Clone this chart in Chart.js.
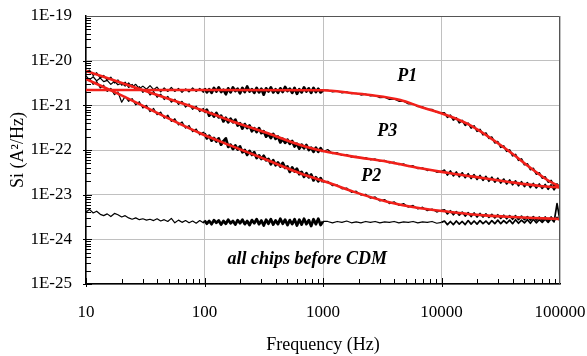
<!DOCTYPE html>
<html>
<head>
<meta charset="utf-8">
<title>Si vs frequency</title>
<script src="https://cdn.jsdelivr.net/npm/chart.js@4.4.1/dist/chart.umd.min.js"></script>
<style>
  html, body { margin: 0; padding: 0; background: #fff; }
</style>
</head>
<body>
<canvas id="noiseChart" width="587" height="356"></canvas>
<script>
// Measured frequencies (Hz), shared by the four measured spectra
const freqHz = [
    10, 10.7, 11.5, 12.3, 13.2, 14.1, 15.1, 16.2, 17.4, 18.6, 20, 21.4, 22.9, 24.5, 26.3, 28.2, 30.2,
    32.4, 34.7, 37.2, 39.8, 42.7, 45.7, 49, 52.5, 56.2, 60.3, 64.6, 69.2, 74.1, 79.4, 85.1, 91.2, 97.7,
    100, 104.7, 109.6, 114.8, 120.2, 125.9, 131.8, 138, 144.5, 151.4, 158.5, 166, 173.8, 182, 190.5,
    199.5, 208.9, 218.8, 229.1, 239.9, 251.2, 263, 275.4, 288.4, 302, 316.2, 331.1, 346.7, 363.1,
    380.2, 398.1, 416.9, 436.5, 457.1, 478.6, 501.2, 524.8, 549.5, 575.4, 602.6, 631, 660.7, 691.8,
    724.4, 758.6, 794.3, 831.8, 871, 912, 955, 1000,
    1096, 1202, 1318, 1445, 1585, 1738, 1905, 2089, 2291, 2512, 2754, 3020, 3311, 3631, 3981, 4365,
    4786, 5248, 5754, 6310, 6918, 7586, 8318, 9120, 10000,
    10593, 11220, 11885, 12589, 13335, 14125, 14962, 15849, 16788, 17783, 18836, 19953, 21135, 22387,
    23714, 25119, 26607, 28184, 29854, 31623, 33497, 35481, 37584, 39811, 42170, 44668, 47315, 50119,
    53088, 56234, 59566, 63096, 66834, 70795, 74989, 79433, 84140, 89125, 94406, 100000
];

const p1LogSi = [
    -20.34, -20.43, -20.36, -20.45, -20.39, -20.47, -20.44, -20.53, -20.46, -20.54,
    -20.50, -20.57, -20.50, -20.59, -20.53, -20.63, -20.57, -20.64, -20.56, -20.65,
    -20.59, -20.70, -20.61, -20.69, -20.60, -20.69, -20.62, -20.71, -20.63, -20.70,
    -20.61, -20.69, -20.62, -20.71,
    -20.62, -20.71, -20.64, -20.72, -20.61, -20.69, -20.60, -20.70, -20.65, -20.75,
    -20.62, -20.71, -20.60, -20.68, -20.63, -20.73, -20.61, -20.70, -20.58, -20.69,
    -20.64, -20.72, -20.61, -20.71, -20.63, -20.76, -20.62, -20.69, -20.60, -20.71,
    -20.64, -20.72, -20.62, -20.70, -20.59, -20.68, -20.63, -20.72, -20.61, -20.74,
    -20.64, -20.71, -20.60, -20.69, -20.62, -20.72, -20.61, -20.70, -20.63, -20.71,
    -20.66,
    -20.66, -20.70, -20.68, -20.72, -20.70, -20.74, -20.73, -20.77, -20.75, -20.79,
    -20.78, -20.83, -20.82, -20.87, -20.86, -20.91, -20.91, -20.97, -20.97, -21.03,
    -21.03, -21.09, -21.09, -21.16, -21.17,
    -21.17, -21.27, -21.22, -21.33, -21.28, -21.39, -21.34, -21.45, -21.40, -21.51,
    -21.46, -21.58, -21.54, -21.66, -21.62, -21.74, -21.71, -21.84, -21.81, -21.94,
    -21.91, -22.03, -22.00, -22.13, -22.10, -22.23, -22.20, -22.33, -22.31, -22.44,
    -22.41, -22.54, -22.51, -22.63, -22.60, -22.72, -22.68, -22.80, -22.76, -22.84
];
const p3LogSi = [
    -20.27, -20.21, -20.33, -20.27, -20.39, -20.33, -20.44, -20.37, -20.50, -20.43,
    -20.55, -20.48, -20.60, -20.53, -20.66, -20.58, -20.71, -20.64, -20.77, -20.69,
    -20.82, -20.75, -20.87, -20.80, -20.93, -20.86, -20.98, -20.91, -21.04, -20.97,
    -21.09, -21.02, -21.14, -21.07,
    -21.16, -21.10, -21.23, -21.17, -21.25, -21.17, -21.27, -21.23, -21.36, -21.28,
    -21.38, -21.30, -21.38, -21.32, -21.45, -21.40, -21.52, -21.42, -21.51, -21.45,
    -21.58, -21.51, -21.60, -21.51, -21.62, -21.58, -21.70, -21.64, -21.73, -21.64,
    -21.75, -21.70, -21.83, -21.75, -21.84, -21.77, -21.86, -21.80, -21.92, -21.86,
    -21.97, -21.88, -21.96, -21.89, -22.00, -21.95, -22.04, -21.95, -22.04, -21.96,
    -22.04,
    -21.99, -22.08, -22.06, -22.12, -22.10, -22.16, -22.14, -22.19, -22.17, -22.22,
    -22.20, -22.25, -22.23, -22.29, -22.27, -22.33, -22.31, -22.37, -22.35, -22.42,
    -22.40, -22.46, -22.44, -22.50, -22.48,
    -22.45, -22.56, -22.47, -22.58, -22.49, -22.60, -22.51, -22.62, -22.53, -22.64,
    -22.55, -22.66, -22.57, -22.68, -22.59, -22.70, -22.61, -22.72, -22.63, -22.74,
    -22.65, -22.76, -22.67, -22.78, -22.69, -22.80, -22.71, -22.82, -22.73, -22.84,
    -22.75, -22.85, -22.76, -22.86, -22.77, -22.88, -22.78, -22.89, -22.79, -22.86
];
const p2LogSi = [
    -20.44, -20.40, -20.53, -20.47, -20.61, -20.55, -20.69, -20.62, -20.76, -20.70,
    -20.93, -20.80, -20.91, -20.85, -20.99, -20.92, -21.06, -21.00, -21.14, -21.07,
    -21.21, -21.15, -21.29, -21.22, -21.36, -21.30, -21.44, -21.37, -21.51, -21.45,
    -21.59, -21.53, -21.66, -21.60,
    -21.63, -21.74, -21.68, -21.79, -21.73, -21.81, -21.74, -21.88, -21.80, -21.74,
    -21.93, -21.88, -21.98, -21.90, -21.99, -21.92, -22.05, -22.00, -22.11, -22.02,
    -22.11, -22.05, -22.18, -22.12, -22.20, -22.13, -22.23, -22.20, -22.32, -22.23,
    -22.34, -22.28, -22.37, -22.29, -22.40, -22.37, -22.49, -22.39, -22.48, -22.42,
    -22.54, -22.49, -22.60, -22.52, -22.61, -22.55, -22.68, -22.61, -22.70, -22.63,
    -22.72,
    -22.70, -22.80, -22.78, -22.87, -22.85, -22.95, -22.92, -23.01, -22.99, -23.08,
    -23.05, -23.14, -23.11, -23.20, -23.16, -23.24, -23.20, -23.28, -23.24, -23.32,
    -23.28, -23.36, -23.32, -23.39, -23.35,
    -23.34, -23.43, -23.36, -23.45, -23.38, -23.46, -23.39, -23.48, -23.40, -23.49,
    -23.41, -23.50, -23.42, -23.50, -23.43, -23.51, -23.44, -23.52, -23.45, -23.53,
    -23.46, -23.54, -23.47, -23.55, -23.47, -23.56, -23.48, -23.56, -23.49, -23.57,
    -23.49, -23.57, -23.50, -23.58, -23.50, -23.58, -23.50, -23.58, -23.51, -23.58
];
const beforeCdmLogSi = [
    -23.39, -23.33, -23.41, -23.37, -23.44, -23.47, -23.43, -23.49, -23.42, -23.45,
    -23.50, -23.47, -23.52, -23.55, -23.52, -23.56, -23.54, -23.57, -23.55, -23.58,
    -23.54, -23.59, -23.56, -23.60, -23.53, -23.63, -23.57, -23.62, -23.58, -23.63,
    -23.59, -23.64, -23.58, -23.63,
    -23.58, -23.65, -23.59, -23.66, -23.57, -23.63, -23.58, -23.67, -23.59, -23.65,
    -23.56, -23.64, -23.59, -23.67, -23.57, -23.64, -23.56, -23.66, -23.59, -23.68,
    -23.57, -23.64, -23.55, -23.66, -23.58, -23.69, -23.56, -23.65, -23.55, -23.67,
    -23.58, -23.66, -23.54, -23.65, -23.56, -23.68, -23.57, -23.66, -23.55, -23.69,
    -23.56, -23.67, -23.54, -23.66, -23.57, -23.70, -23.55, -23.66, -23.54, -23.68,
    -23.60,
    -23.60, -23.63, -23.60, -23.62, -23.59, -23.63, -23.61, -23.63, -23.60, -23.62,
    -23.60, -23.63, -23.61, -23.62, -23.60, -23.63, -23.61, -23.62, -23.60, -23.63,
    -23.61, -23.62, -23.60, -23.64, -23.62,
    -23.59, -23.67, -23.60, -23.67, -23.59, -23.66, -23.60, -23.67, -23.58, -23.66,
    -23.59, -23.66, -23.58, -23.65, -23.59, -23.66, -23.58, -23.65, -23.57, -23.65,
    -23.58, -23.64, -23.57, -23.65, -23.56, -23.64, -23.57, -23.63, -23.56, -23.64,
    -23.55, -23.63, -23.56, -23.62, -23.55, -23.62, -23.54, -23.61, -23.20, -23.58
];

// Fitted curves (red), Si in A^2/Hz
const p1FitHz = [10, 100, 1000, 1800, 2500, 4500, 6600, 11900, 18600, 36000, 59600, 78300, 100000];
const p1FitSi = [2.2e-21, 2.2e-21, 2.18e-21, 1.86e-21, 1.70e-21, 1.32e-21, 9.3e-22, 5.6e-22, 3.27e-22,
    1.0e-22, 3.56e-23, 2.13e-23, 1.49e-23];
const p3FitHz = [10, 30, 100, 175, 338, 641, 1000, 1800, 3480, 6620, 11900, 18600, 36000, 68200, 100000];
const p3FitSi = [5.9e-21, 2.2e-21, 7.46e-22, 4.31e-22, 2.40e-22, 1.29e-22, 9.5e-23, 7.1e-23, 5.47e-23,
    3.90e-23, 3.01e-23, 2.53e-23, 1.95e-23, 1.56e-23, 1.45e-23];
const p2FitHz = [10, 16.6, 92, 175, 338, 641, 1150, 1800, 3480, 6620, 11900, 18600, 24400, 36000, 60000, 100000];
const p2FitSi = [3.89e-21, 2.1e-21, 2.37e-22, 1.19e-22, 5.97e-23, 3.01e-23, 1.80e-23, 1.17e-23, 6.97e-24,
    4.96e-24, 4.1e-24, 3.6e-24, 3.4e-24, 3.2e-24, 3.0e-24, 2.86e-24];

// Axis ticks
const xTickValues = [10, 100, 1000, 10000, 100000];
const xTickLabels = ['10', '100', '1000', '10000', '100000'];
const yTickValues = [1e-25, 1e-24, 1e-23, 1e-22, 1e-21, 1e-20, 1e-19];
const yTickLabels = ['1E-25', '1E-24', '1E-23', '1E-22', '1E-21', '1E-20', '1E-19'];

// Curve labels inside the plot
const curveLabels = ['P1', 'P3', 'P2', 'all chips before CDM'];
const curveLabelHz = [5140, 3480, 2550, 736];
const curveLabelSi = [4.5e-21, 2.6e-22, 2.55e-23, 3.6e-25];

const serif = '"Liberation Serif", "Times New Roman", Times, serif';

function measured(logs) {
    return freqHz.map((f, i) => ({ x: f, y: Math.pow(10, logs[i]) }));
}

function fitted(freqs, si) {
    return freqs.map((f, i) => ({ x: f, y: si[i] }));
}

// thicker strokes where the analyser sweep is dense
function noiseWidth(c) {
    const f = c.p0.parsed.x;
    if (f >= 100 && f < 1000) return 2.8;
    if (f >= 10000) return 1.7;
    return 1.2;
}

function dataLine(label, logs) {
    return {
        label: label,
        data: measured(logs),
        borderColor: '#000',
        borderWidth: 1.2,
        borderJoinStyle: 'round',
        segment: { borderWidth: noiseWidth },
        pointRadius: 0,
        tension: 0,
        order: 2
    };
}

function fitLine(label, freqs, si) {
    return {
        label: label,
        data: fitted(freqs, si),
        borderColor: '#f2201a',
        borderWidth: 2.6,
        pointRadius: 0,
        cubicInterpolationMode: 'monotone',
        order: 1
    };
}

function noOverflow(scale) {
    scale.paddingLeft = 0;
    scale.paddingRight = 0;
    scale.paddingTop = 0;
    scale.paddingBottom = 0;
}

// Plot frame, inward minor ticks and curve labels
const framePlugin = {
    id: 'frame',
    afterDatasetsDraw(chart) {
        const { ctx, chartArea: a, scales } = chart;
        const xs = scales.x, ys = scales.y;
        ctx.save();
        ctx.strokeStyle = '#555';
        ctx.lineWidth = 1;
        ctx.beginPath();
        ctx.moveTo(a.left, a.top + 0.5);
        ctx.lineTo(a.right - 0.5, a.top + 0.5);
        ctx.lineTo(a.right - 0.5, a.bottom);
        ctx.stroke();

        ctx.strokeStyle = '#000';
        ctx.beginPath();
        for (let e = -25; e < -19; e++) {
            for (let d = 1; d <= 9; d++) {
                const py = Math.round(ys.getPixelForValue(d * Math.pow(10, e))) + 0.5;
                ctx.moveTo(a.left - (d === 1 ? 3 : 0), py);
                ctx.lineTo(a.left + (d === 1 ? 6 : 5), py);
            }
        }
        for (let e = 1; e < 5; e++) {
            for (let d = 1; d <= 9; d++) {
                const px = Math.round(xs.getPixelForValue(d * Math.pow(10, e))) + 0.5;
                ctx.moveTo(px, a.bottom + (d === 1 ? 3 : 0));
                ctx.lineTo(px, a.bottom - (d === 1 ? 6 : 5));
            }
        }
        ctx.stroke();

        ctx.fillStyle = '#000';
        ctx.font = 'italic bold 18px ' + serif;
        ctx.textAlign = 'center';
        ctx.textBaseline = 'middle';
        curveLabels.forEach((t, i) => {
            ctx.fillText(t, xs.getPixelForValue(curveLabelHz[i]), ys.getPixelForValue(curveLabelSi[i]));
        });
        ctx.restore();
    }
};

const ctx = document.getElementById('noiseChart').getContext('2d');
const noiseChart = new Chart(ctx, {
    type: 'line',
    data: {
        datasets: [
            fitLine('P1 fit', p1FitHz, p1FitSi),
            fitLine('P3 fit', p3FitHz, p3FitSi),
            fitLine('P2 fit', p2FitHz, p2FitSi),
            dataLine('P1', p1LogSi),
            dataLine('P3', p3LogSi),
            dataLine('P2', p2LogSi),
            dataLine('all chips before CDM', beforeCdmLogSi)
        ]
    },
    options: {
        responsive: false,
        animation: false,
        parsing: false,
        layout: { padding: { top: 16, right: 27, left: 0, bottom: 0 } },
        plugins: {
            legend: { display: false },
            tooltip: { enabled: false }
        },
        scales: {
            x: {
                type: 'logarithmic',
                position: 'bottom',
                min: 10,
                max: 100000,
                afterBuildTicks: scale => { scale.ticks = xTickValues.map(v => ({ value: v })); },
                afterFit: scale => { scale.height = 72; noOverflow(scale); },
                grid: { color: '#c0c0c0', lineWidth: 1, drawTicks: false },
                border: { color: '#000', width: 1.5 },
                ticks: {
                    autoSkip: false,
                    maxRotation: 0,
                    padding: 18,
                    color: '#000',
                    font: { family: serif, size: 17 },
                    callback: (v, i) => xTickLabels[i]
                },
                title: {
                    display: true,
                    text: 'Frequency (Hz)',
                    color: '#000',
                    font: { family: serif, size: 18 },
                    padding: { top: 4, bottom: 0 }
                }
            },
            y: {
                type: 'logarithmic',
                position: 'left',
                min: 1e-25,
                max: 1e-19,
                afterBuildTicks: scale => { scale.ticks = yTickValues.map(v => ({ value: v })); },
                afterFit: scale => { scale.width = 86; noOverflow(scale); },
                grid: { color: '#c0c0c0', lineWidth: 1, drawTicks: false },
                border: { color: '#000', width: 1.5 },
                ticks: {
                    padding: 14,
                    color: '#000',
                    font: { family: serif, size: 17 },
                    callback: (v, i) => yTickLabels[i]
                },
                title: {
                    display: true,
                    text: 'Si (A²/Hz)',
                    color: '#000',
                    font: { family: serif, size: 18 },
                    padding: { top: 7, bottom: 0 }
                }
            }
        }
    },
    plugins: [framePlugin]
});
</script>
</body>
</html>
